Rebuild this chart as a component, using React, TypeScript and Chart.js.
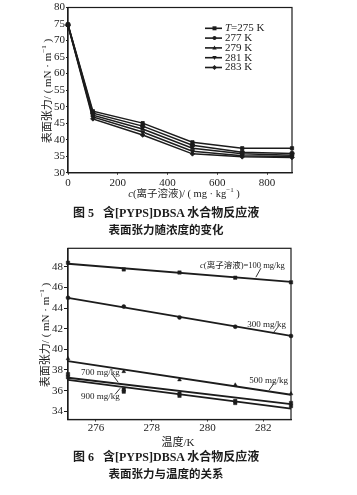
import React, { useEffect, useRef } from 'react';
import { Chart, registerables } from 'chart.js';

Chart.register(...registerables);

// ---------- Figure 5 data ----------
const concentrations = [0, 100, 300, 500, 700, 900];
const tension275 = [74.9, 48.6, 45.0, 39.2, 37.4, 37.4];
const tension277 = [74.8, 48.0, 44.1, 38.3, 36.2, 35.8];
const tension279 = [74.7, 47.4, 43.2, 37.4, 35.7, 35.3];
const tension281 = [74.6, 46.9, 42.3, 36.5, 35.1, 34.9];
const tension283 = [74.5, 46.3, 41.4, 35.7, 34.8, 34.6];
const tempLabels = ['T=275 K', '277 K', '279 K', '281 K', '283 K'];

// ---------- Figure 6 data ----------
const temperatures = [275, 277, 279, 281, 283];
const tempTicks = [276, 278, 280, 282];
const c100 = [48.4, 47.75, 47.45, 46.95, 46.5];
const c300 = [45.0, 44.15, 43.1, 42.2, 41.3];
const c500 = [39.1, 37.85, 37.05, 36.55, 35.7];
const c700 = [37.6, 36.1, 35.7, 35.0, 34.8];
const c900 = [37.3, 35.9, 35.5, 34.8, 34.5];
const fitTemps = [275, 283];
const fit100 = [48.3, 46.55];
const fit300 = [45.0, 41.3];
const fit500 = [38.85, 35.6];
const fit700 = [37.25, 34.7];
const fit900 = [37.05, 34.25];
const concLabels = ['c(离子溶液)=100 mg/kg', '300 mg/kg', '500 mg/kg', '700 mg/kg', '900 mg/kg'];

const INK = '#1c1c1c';
const SERIF = '"Liberation Serif", "Noto Sans CJK SC", serif';
const MIXED = '"Liberation Serif", "Noto Sans CJK SC", serif';

function drawMarker(ctx: CanvasRenderingContext2D, style: string, x: number, y: number, r: number) {
  ctx.beginPath();
  if (style === 'rect') {
    ctx.rect(x - r, y - r, 2 * r, 2 * r);
  } else if (style === 'circle') {
    ctx.arc(x, y, r, 0, Math.PI * 2);
  } else if (style === 'triUp') {
    ctx.moveTo(x, y - r * 1.2);
    ctx.lineTo(x + r * 1.1, y + r * 0.8);
    ctx.lineTo(x - r * 1.1, y + r * 0.8);
    ctx.closePath();
  } else if (style === 'triDown') {
    ctx.moveTo(x, y + r * 1.2);
    ctx.lineTo(x + r * 1.1, y - r * 0.8);
    ctx.lineTo(x - r * 1.1, y - r * 0.8);
    ctx.closePath();
  } else {
    ctx.moveTo(x, y - r * 1.2);
    ctx.lineTo(x + r * 1.2, y);
    ctx.lineTo(x, y + r * 1.2);
    ctx.lineTo(x - r * 1.2, y);
    ctx.closePath();
  }
  ctx.fill();
}

const frameBox = {
  id: 'frameBox',
  afterDatasetsDraw(chart: any) {
    const { ctx, chartArea } = chart;
    ctx.save();
    ctx.strokeStyle = INK;
    ctx.lineWidth = 1.2;
    ctx.strokeRect(chartArea.left, chartArea.top, chartArea.right - chartArea.left, chartArea.bottom - chartArea.top);
    ctx.restore();
  },
};

const markerStyles1 = ['rect', 'circle', 'triUp', 'triDown', 'diamond'];

const legend1 = {
  id: 'legend1',
  afterDraw(chart: any) {
    const { ctx, chartArea } = chart;
    ctx.save();
    ctx.fillStyle = INK;
    ctx.strokeStyle = INK;
    const x0 = chartArea.left + 137;
    const y0 = chartArea.top + 20.8;
    tempLabels.forEach((lab, i) => {
      const y = y0 + i * 9.8;
      ctx.lineWidth = 1.6;
      ctx.beginPath();
      ctx.moveTo(x0, y);
      ctx.lineTo(x0 + 17, y);
      ctx.stroke();
      drawMarker(ctx, markerStyles1[i], x0 + 9.5, y, 2);
      ctx.textBaseline = 'middle';
      ctx.textAlign = 'left';
      let tx = x0 + 20;
      if (lab.startsWith('T=')) {
        ctx.font = 'italic 11px ' + SERIF;
        ctx.fillText('T', tx, y);
        tx += ctx.measureText('T').width;
        ctx.font = '11px ' + SERIF;
        ctx.fillText(lab.slice(1), tx, y);
      } else {
        ctx.font = '11px ' + SERIF;
        ctx.fillText(lab, tx, y);
      }
    });
    ctx.restore();
  },
};

// Annotation anchors for figure 6, in data units (temperature, tension)
const annoText = [
  { x: 282.78, y: 48.07, align: 'right' },
  { x: 282.82, y: 42.44, align: 'right' },
  { x: 282.89, y: 36.93, align: 'right' },
  { x: 275.47, y: 37.75, align: 'left' },
  { x: 275.47, y: 35.45, align: 'left' },
];
const annoLeader = [
  [281.92, 47.87, 281.74, 47.0],
  [282.53, 42.15, 282.35, 41.56],
  [282.39, 36.71, 282.21, 36.03],
  [276.59, 37.58, 276.8, 36.81],
  [276.69, 35.64, 276.87, 36.23],
];

const annot2 = {
  id: 'annot2',
  afterDraw(chart: any) {
    const { ctx } = chart;
    const xs = chart.scales.x;
    const ys = chart.scales.y;
    ctx.save();
    ctx.fillStyle = INK;
    ctx.strokeStyle = INK;
    ctx.lineWidth = 0.9;
    ctx.textBaseline = 'middle';
    concLabels.forEach((lab, i) => {
      const a = annoText[i];
      const px = xs.getPixelForValue(a.x);
      const py = ys.getPixelForValue(a.y);
      const fs = i === 0 ? 8.5 : 9;
      let parts: { t: string; italic: boolean }[] = [];
      if (lab.startsWith('c(')) parts = [{ t: 'c', italic: true }, { t: lab.slice(1), italic: false }];
      else parts = [{ t: lab, italic: false }];
      let total = 0;
      parts.forEach((p) => {
        ctx.font = (p.italic ? 'italic ' : '') + fs + 'px ' + MIXED;
        total += ctx.measureText(p.t).width;
      });
      let tx = a.align === 'right' ? px - total : px;
      ctx.textAlign = 'left';
      parts.forEach((p) => {
        ctx.font = (p.italic ? 'italic ' : '') + fs + 'px ' + MIXED;
        ctx.fillText(p.t, tx, py);
        tx += ctx.measureText(p.t).width;
      });
      const l = annoLeader[i];
      ctx.beginPath();
      ctx.moveTo(xs.getPixelForValue(l[0]), ys.getPixelForValue(l[1]));
      ctx.lineTo(xs.getPixelForValue(l[2]), ys.getPixelForValue(l[3]));
      ctx.stroke();
    });
    ctx.restore();
  },
};

function axisCommon(tickLen: number, pad: number) {
  return {
    border: { display: true, color: INK, width: 1.2 },
    grid: { display: true, drawOnChartArea: false, drawTicks: true, tickLength: tickLen, color: INK, tickColor: INK },
    ticks: { color: INK, font: { family: SERIF, size: 11 }, padding: pad, includeBounds: false, maxRotation: 0, autoSkip: false },
  };
}

function Figure5() {
  const ref = useRef<HTMLCanvasElement>(null);
  useEffect(() => {
    const series = [tension275, tension277, tension279, tension281, tension283];
    const ps = ['rect', 'circle', 'triangle', 'triangle', 'rectRot'];
    const rot = [0, 0, 0, 180, 0];
    const chart = new Chart(ref.current as HTMLCanvasElement, {
      type: 'line',
      data: {
        datasets: series.map((s, i) => ({
          label: tempLabels[i],
          data: concentrations.map((c, j) => ({ x: c, y: s[j] })),
          borderColor: INK,
          backgroundColor: INK,
          borderWidth: 1.5,
          pointStyle: ps[i] as any,
          rotation: rot[i],
          pointRadius: 2.3,
          pointBorderWidth: 0.8,
          tension: 0,
          clip: false as any,
        })),
      },
      options: {
        responsive: false,
        animation: false,
        layout: { padding: { top: 7.5, right: 65, left: 0, bottom: 0 } },
        plugins: { legend: { display: false }, tooltip: { enabled: false } },
        scales: {
          x: {
            type: 'linear',
            min: 0,
            max: 900,
            ...axisCommon(2, 2),
            ticks: { ...axisCommon(2, 2).ticks, stepSize: 200 },
            afterFit: (s: any) => { s.height = 27.3; s.paddingLeft = 0; s.paddingRight = 0; },
          },
          y: {
            type: 'linear',
            min: 30,
            max: 80,
            ...axisCommon(2, 1),
            ticks: { ...axisCommon(2, 1).ticks, stepSize: 5 },
            afterFit: (s: any) => { s.width = 68; s.paddingTop = 0; s.paddingBottom = 0; },
          },
        } as any,
      },
      plugins: [frameBox, legend1],
    });
    return () => chart.destroy();
  }, []);
  return <canvas ref={ref} width={357} height={200} style={{ position: 'absolute', left: 0, top: 0, display: 'block' }} />;
}

function Figure6() {
  const ref = useRef<HTMLCanvasElement>(null);
  useEffect(() => {
    const pts = [c100, c300, c500, c700, c900];
    const fits = [fit100, fit300, fit500, fit700, fit900];
    const ps = ['rect', 'circle', 'triangle', 'rect', 'rect'];
    const rad = [2.4, 2.0, 2.2, 2.4, 2.4];
    const datasets: any[] = [];
    fits.forEach((f, i) => {
      datasets.push({
        type: 'line',
        label: concLabels[i] + ' fit',
        data: fitTemps.map((t, j) => ({ x: t, y: f[j] })),
        borderColor: INK,
        borderWidth: 1.8,
        pointRadius: 0,
        showLine: true,
        clip: false,
      });
    });
    pts.forEach((p, i) => {
      datasets.push({
        type: 'scatter',
        label: concLabels[i],
        data: temperatures.map((t, j) => ({ x: t, y: p[j] })),
        borderColor: INK,
        backgroundColor: INK,
        pointStyle: ps[i],
        pointRadius: rad[i],
        pointBorderWidth: 0.5,
        showLine: false,
        clip: false,
      });
    });
    const chart = new Chart(ref.current as HTMLCanvasElement, {
      type: 'scatter',
      data: { datasets },
      options: {
        responsive: false,
        animation: false,
        layout: { padding: { top: 8.3, right: 66, left: 0, bottom: 0 } },
        plugins: { legend: { display: false }, tooltip: { enabled: false } },
        scales: {
          x: {
            type: 'linear',
            min: 275,
            max: 283,
            ...axisCommon(2, 0),
            ticks: { ...axisCommon(2, 0).ticks },
            afterBuildTicks: (s: any) => { s.ticks = tempTicks.map((v) => ({ value: v })); },
            afterFit: (s: any) => { s.height = 20.5; s.paddingLeft = 0; s.paddingRight = 0; },
          },
          y: {
            type: 'linear',
            min: 33.2,
            max: 49.8,
            ...axisCommon(4, 1),
            ticks: { ...axisCommon(4, 1).ticks, stepSize: 2 },
            afterFit: (s: any) => { s.width = 68; s.paddingTop = 0; s.paddingBottom = 0; },
          },
        } as any,
      },
      plugins: [frameBox, annot2],
    });
    return () => chart.destroy();
  }, []);
  return <canvas ref={ref} width={357} height={200} style={{ position: 'absolute', left: 0, top: 240, display: 'block' }} />;
}

const textBase: React.CSSProperties = {
  position: 'absolute',
  color: INK,
  fontFamily: MIXED,
  whiteSpace: 'pre',
  lineHeight: 1,
};

function Centered({ x, y, size, children, bold }: { x: number; y: number; size: number; children: React.ReactNode; bold?: boolean }) {
  return (
    <div style={{ ...textBase, left: x, top: y, fontSize: size, fontWeight: bold ? 600 : 400, transform: 'translate(-50%, -50%)' }}>
      {children}
    </div>
  );
}

function RotTitle({ x, y }: { x: number; y: number }) {
  return (
    <div style={{ ...textBase, left: x, top: y, fontSize: 11, transform: 'translate(-50%, -50%) rotate(-90deg)' }}>
      表面张力/ ( mN · m<sup style={{ fontSize: 7, verticalAlign: 'super', lineHeight: 0 }}>−1</sup> )
    </div>
  );
}

export default function App() {
  return (
    <div style={{ position: 'absolute', left: 0, top: 0, width: 357, height: 495, background: '#fff', overflow: 'hidden' }}>
      <Figure5 />
      <Figure6 />
      <RotTitle x={46.5} y={91} />
      <RotTitle x={45} y={335} />
      <Centered x={184} y={194} size={10.5}>
        <i>c</i>(离子溶液)/ ( mg · kg<sup style={{ fontSize: 7, verticalAlign: 'super', lineHeight: 0 }}>−1</sup> )
      </Centered>
      <div style={{ ...textBase, left: 73, top: 207, fontSize: 12, fontWeight: 600 }}>图 5{'   '}含[PYPS]DBSA 水合物反应液</div>
      <Centered x={166} y={231} size={11.5} bold>表面张力随浓度的变化</Centered>
      <Centered x={178} y={442} size={11}>温度/K</Centered>
      <div style={{ ...textBase, left: 73, top: 451, fontSize: 12, fontWeight: 600 }}>图 6{'   '}含[PYPS]DBSA 水合物反应液</div>
      <Centered x={166} y={475} size={11.5} bold>表面张力与温度的关系</Centered>
    </div>
  );
}
